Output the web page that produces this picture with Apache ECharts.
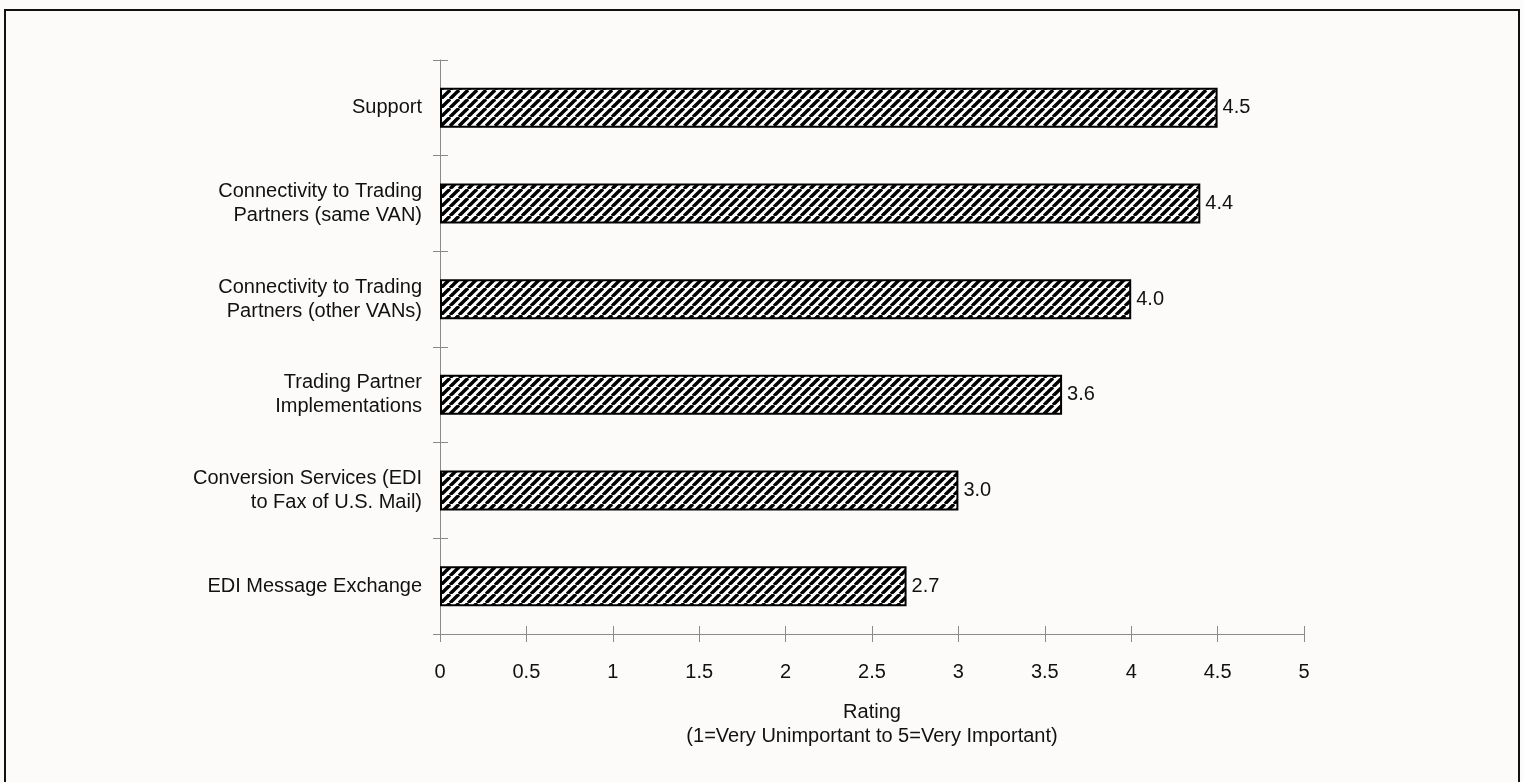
<!DOCTYPE html>
<html>
<head>
<meta charset="utf-8">
<script src="https://cdn.jsdelivr.net/npm/echarts@6/dist/echarts.min.js"></script>
<style>
html,body{margin:0;padding:0;background:#fcfbf9;}
#chart{width:1523px;height:782px;}
</style>
</head>
<body>
<div id="chart"></div>
<script>
const categories = [
  'Support',
  'Connectivity to Trading\nPartners (same VAN)',
  'Connectivity to Trading\nPartners (other VANs)',
  'Trading Partner\nImplementations',
  'Conversion Services (EDI\nto Fax of U.S. Mail)',
  'EDI Message Exchange'
];
const ratings = [4.5, 4.4, 4.0, 3.6, 3.0, 2.7];
const xTickValues = [0, 0.5, 1, 1.5, 2, 2.5, 3, 3.5, 4, 4.5, 5];
const axisTitle = 'Rating\n(1=Very Unimportant to 5=Very Important)';

function makeHatch() {
  const s = 9;
  const c = document.createElement('canvas');
  c.width = s; c.height = s;
  const ctx = c.getContext('2d');
  ctx.fillStyle = '#ffffff';
  ctx.fillRect(0, 0, s, s);
  ctx.strokeStyle = '#000000';
  ctx.lineWidth = 3.4;
  for (let k = -1; k <= 1; k++) {
    ctx.beginPath();
    ctx.moveTo(k * s, s);
    ctx.lineTo(k * s + s, 0);
    ctx.stroke();
  }
  return c;
}

const chart = echarts.init(document.getElementById('chart'));
const font = 'Liberation Sans, Arial, sans-serif';
const axisGray = '#8a8a8a';
const fs = 20;

chart.setOption({
  backgroundColor: '#fcfbf9',
  animation: false,
  graphic: [{
    type: 'rect',
    shape: { x: 5, y: 10, width: 1514, height: 790 },
    style: { fill: 'none', stroke: '#111', lineWidth: 2 },
    silent: true
  }],
  grid: { left: 440, right: 219, top: 60, bottom: 148 },
  xAxis: [{
    type: 'value',
    min: 0, max: 5, interval: 0.5,
    axisLine: { show: true, lineStyle: { color: axisGray, width: 1 } },
    axisTick: { show: true, length: 8, lineStyle: { color: axisGray } },
    splitLine: { show: false },
    axisLabel: {
      margin: 28, color: '#111', fontFamily: font, fontSize: fs,
      formatter: v => (xTickValues.indexOf(v) >= 0 ? String(v) : '')
    },
    name: axisTitle,
    nameLocation: 'middle',
    nameGap: 66,
    nameTextStyle: { color: '#111', fontFamily: font, fontSize: fs, lineHeight: 24 }
  }, {
    type: 'value',
    position: 'bottom',
    min: 0, max: 5, interval: 0.5,
    axisLine: { show: false },
    axisTick: { show: true, inside: true, length: 8, lineStyle: { color: axisGray } },
    axisLabel: { show: false },
    splitLine: { show: false }
  }],
  yAxis: [{
    type: 'category',
    data: categories,
    inverse: true,
    axisLine: { show: true, lineStyle: { color: axisGray, width: 1 } },
    axisTick: { show: true, length: 7, lineStyle: { color: axisGray } },
    axisLabel: {
      margin: 18, color: '#111', fontFamily: font, fontSize: fs, lineHeight: 24, align: 'right'
    }
  }, {
    type: 'category',
    data: categories,
    inverse: true,
    position: 'left',
    axisLine: { show: false },
    axisTick: { show: true, inside: true, length: 8, lineStyle: { color: axisGray } },
    axisLabel: { show: false }
  }],
  series: [{
    type: 'bar',
    data: ratings,
    barWidth: 40,
    itemStyle: {
      color: { image: makeHatch(), repeat: 'repeat' },
      borderColor: '#000',
      borderWidth: 2
    },
    label: {
      show: true, position: 'right', distance: 5,
      color: '#111', fontFamily: font, fontSize: fs,
      formatter: p => p.value.toFixed(1)
    }
  }]
});
</script>
</body>
</html>
